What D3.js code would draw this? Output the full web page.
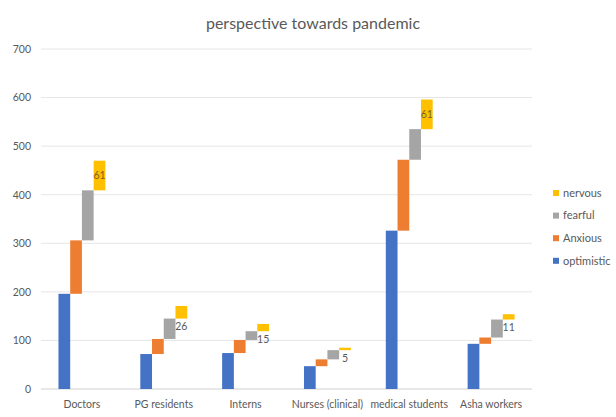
<!DOCTYPE html>
<html>
<head>
<meta charset="utf-8">
<script src="https://cdn.jsdelivr.net/npm/d3@7"></script>
<style>
  html, body { margin: 0; padding: 0; background: #fff; }
  svg { display: block; font-family: Lato, "Open Sans", sans-serif; }
</style>
</head>
<body>
<svg id="chart" width="616" height="417"></svg>
<script>
// Groups and feelings towards the pandemic
const categories = ["Doctors", "PG residents", "Interns", "Nurses (clinical)", "medical students", "Asha workers"];
const seriesNames = ["optimistic", "Anxious", "fearful", "nervous"];
const optimistic = [196, 72, 74, 47, 326, 93];
const anxious    = [110, 31, 27, 14, 146, 13];
const fearful    = [103, 42, 18, 19, 63, 37];
const nervous    = [61, 26, 15, 5, 61, 11];
const yTicks = [0, 100, 200, 300, 400, 500, 600, 700];
const colors = ["#4472C4", "#ED7D31", "#A5A5A5", "#FFC000"];

const seriesValues = [optimistic, anxious, fearful, nervous];

// Each feeling floats on top of the running total of the previous ones
const rows = [];
categories.forEach((cat, i) => {
  let base = 0;
  seriesValues.forEach((vals, s) => {
    rows.push({ cat, series: seriesNames[s], s, start: base, end: base + vals[i], value: vals[i] });
    base += vals[i];
  });
});

const svg = d3.select("#chart");
const margin = { left: 41, right: 84, top: 49, bottom: 28 };
const W = 616, H = 417;

const x = d3.scaleBand().domain(categories).range([margin.left, W - margin.right]).paddingInner(0).paddingOuter(0);
const groupW = x.bandwidth() * 0.573;
const xs = d3.scaleBand().domain(seriesNames).range([0, groupW]).padding(0);
const y = d3.scaleLinear().domain([0, 700]).range([H - margin.bottom, margin.top]);

// Gridlines
svg.append("g")
  .selectAll("line").data(yTicks).join("line")
  .attr("x1", margin.left).attr("x2", W - margin.right)
  .attr("y1", d => y(d)).attr("y2", d => y(d))
  .attr("stroke", d => d === 0 ? "#d0d0d0" : "#e6e6e6").attr("stroke-width", 1);

// Y axis labels
const yAxis = d3.axisLeft(y).tickValues(yTicks).tickSize(0).tickPadding(10);
svg.append("g").attr("transform", `translate(${margin.left},0)`).call(yAxis)
  .call(g => g.select(".domain").remove())
  .call(g => g.selectAll("text").attr("fill", "#595959").attr("font-size", "10.5px").attr("font-family", "Lato, sans-serif"));

// X axis labels
const xAxis = d3.axisBottom(x).tickSize(0).tickPadding(12);
svg.append("g").attr("transform", `translate(0,${y(0)})`).call(xAxis)
  .call(g => g.select(".domain").remove())
  .call(g => g.selectAll("text").attr("fill", "#595959").attr("font-size", "10.5px").attr("font-family", "Lato, sans-serif"));

// Bars
const barX = d => x(d.cat) + (x.bandwidth() - groupW) / 2 + xs(d.series);
svg.append("g").selectAll("rect").data(rows).join("rect")
  .attr("x", barX)
  .attr("width", xs.bandwidth())
  .attr("y", d => y(d.end))
  .attr("height", d => y(d.start) - y(d.end))
  .attr("fill", d => colors[d.s]);

// Value labels on the nervous bars: inside tall bars, just under short ones
const labelRows = rows.filter(d => d.series === "nervous");
const tall = d => y(d.start) - y(d.end) > 14;
svg.append("g").selectAll("text").data(labelRows).join("text")
  .attr("x", d => barX(d) + xs.bandwidth() / 2)
  .attr("y", d => tall(d) ? (y(d.start) + y(d.end)) / 2 : y(d.start) + 8)
  .attr("dy", "0.35em")
  .attr("text-anchor", "middle")
  .attr("font-size", "10.5px")
  .attr("fill", d => tall(d) ? "#7a6420" : "#595959")
  .text(d => d.value);

// Title
svg.append("text")
  .attr("x", 313).attr("y", 23).attr("dy", "0.35em")
  .attr("text-anchor", "middle")
  .attr("font-size", "16px").attr("fill", "#595959")
  .text("perspective towards pandemic");

// Legend, top entry is the last series
const legend = svg.append("g").attr("transform", "translate(553,193)");
const legendItems = seriesNames.slice().reverse();
legendItems.forEach((name, i) => {
  const g = legend.append("g").attr("transform", `translate(0,${i * 22.6})`);
  g.append("rect").attr("x", 0).attr("y", -3).attr("width", 6).attr("height", 6)
    .attr("fill", colors[seriesNames.indexOf(name)]);
  g.append("text").attr("x", 10).attr("y", 0).attr("dy", "0.35em")
    .attr("font-size", "11px").attr("fill", "#595959").text(name);
});
</script>
</body>
</html>
